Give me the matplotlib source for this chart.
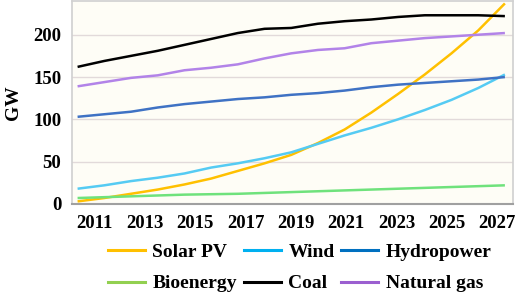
import numpy as np
import matplotlib.pyplot as plt

years = list(range(2011, 2028))
solar = [3, 7, 12, 17, 23, 30, 39, 48, 58, 72, 88, 108, 130, 153, 178, 205, 237]
wind = [18, 22, 27, 31, 36, 43, 48, 54, 61, 71, 81, 90, 100, 111, 123, 137, 153]
hydro = [103, 106, 109, 114, 118, 121, 124, 126, 129, 131, 134, 138, 141, 143, 145, 147, 150]
bio = [7, 8, 9, 10, 11, 11.5, 12, 13, 14, 15, 16, 17, 18, 19, 20, 21, 22]
coal = [162, 169, 175, 181, 188, 195, 202, 207, 208, 213, 216, 218, 221, 223, 223, 223, 222]
gas = [139, 144, 149, 152, 158, 161, 165, 172, 178, 182, 184, 190, 193, 196, 198, 200, 202]
tick_years = list(range(2011, 2028, 2))

plt.rcParams['font.family'] = ['Liberation Serif', 'DejaVu Serif']
plt.rcParams['font.weight'] = 'bold'

fig = plt.figure(figsize=(5.16, 2.96), dpi=100)
ax = fig.add_axes([0.140, 0.311, 0.854, 0.686])
ax.set_facecolor('#fefdf6')

lw = 1.8
series = [
    (solar, 'Solar PV', '#ffc000', '#ffc000'),
    (wind, 'Wind', '#55cbf3', '#00b0f0'),
    (hydro, 'Hydropower', '#3f72c4', '#0070c0'),
    (bio, 'Bioenergy', '#6fe27c', '#92d050'),
    (coal, 'Coal', '#000000', '#000000'),
    (gas, 'Natural gas', '#b283e8', '#9b5fd0'),
]
lines = []
for vals, name, col, lcol in series:
    ax.plot(years, vals, color=col, lw=lw, solid_capstyle='butt')
    lines.append(plt.Line2D([], [], color=lcol, lw=2.2, label=name))

ax.set_xlim(2010.8, 2027.3)
ax.set_ylim(0, 240)
ax.set_yticks([0, 50, 100, 150, 200])
# the labels in the source sit a little tighter than the data points
ax.set_xticks(np.linspace(2011.64, 2026.71, len(tick_years)))
ax.set_xticklabels(tick_years)
ax.tick_params(length=0, labelsize=13.5)
ax.tick_params(axis='y', pad=8)
ax.tick_params(axis='x', pad=8)
ax.grid(axis='y', color='#e2dada', lw=1)
ax.set_axisbelow(True)
for s in ['top', 'right', 'left']:
    ax.spines[s].set_color('#d0d0d0')
    ax.spines[s].set_linewidth(1.2)
ax.spines['bottom'].set_color('#a0a0a0')
ax.spines['bottom'].set_linewidth(1.5)
ax.set_ylabel('GW', fontsize=14, fontweight='bold', labelpad=8)

# row-major order for a 3-column legend
order = [0, 3, 1, 4, 2, 5]
fig.legend(handles=[lines[i] for i in order], loc='center',
           bbox_to_anchor=(0.581, 0.095), ncol=3,
           frameon=False, fontsize=14, handlelength=1.9, columnspacing=0.35,
           handletextpad=0.4, labelspacing=0.72)

fig.savefig('out.png', dpi=100)
